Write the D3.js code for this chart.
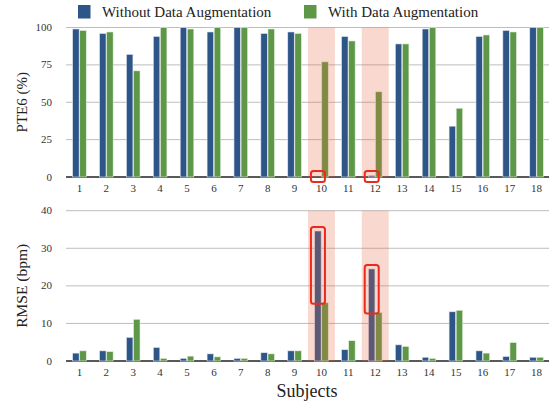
<!DOCTYPE html>
<html>
<head>
<meta charset="utf-8">
<script src="https://cdn.jsdelivr.net/npm/d3@7"></script>
<style>
  body { margin: 0; background: #fff; }
  svg { display: block; font-family: "Liberation Serif", serif; }
</style>
</head>
<body>
<div class="canvas"></div>
<script>
// data
const subjects = d3.range(1, 19);
const pteWithout = [99, 96, 82, 94, 100, 97, 100, 96, 97, 0, 94, 1, 89, 99, 34, 94, 98, 100];
const pteWith = [98, 97, 71, 100, 99, 100, 100, 99, 96, 77, 91, 57, 89, 100, 46, 95, 97, 100];
const rmseWithout = [2.1, 2.7, 6.3, 3.6, 0.7, 1.9, 0.7, 2.2, 2.7, 34.6, 3.0, 24.5, 4.3, 1.0, 13.1, 2.7, 1.2, 1.0];
const rmseWith = [2.7, 2.5, 11.1, 0.7, 1.3, 1.1, 0.7, 1.9, 2.7, 15.5, 5.4, 12.9, 3.9, 0.7, 13.5, 2.1, 4.9, 1.0];
const pteTicks = [0, 25, 50, 75, 100];
const rmseTicks = [0, 10, 20, 30, 40];
const highlighted = [10, 12];
const seriesNames = ['Without Data Augmentation', 'With Data Augmentation'];

const blue = '#2e5588';
const green = '#5e9747';

const svg = d3.select('.canvas').append('svg')
    .attr('width', 549)
    .attr('height', 402);

const x = d3.scaleBand()
    .domain(subjects)
    .range([66, 550])
    .padding(0);

const barW = 6.5;

function panel(opts) {
    const y = d3.scaleLinear().domain(opts.domain).range(opts.range);
    const g = svg.append('g');

    // grid
    g.selectAll('line.grid')
        .data(opts.ticks)
        .join('line')
        .attr('x1', 66).attr('x2', 549)
        .attr('y1', d => y(d)).attr('y2', d => y(d))
        .attr('stroke', d => d === 0 ? '#222' : '#bdbdbd')
        .attr('stroke-width', d => d === 0 ? 1.6 : 1);

    // tick labels
    g.selectAll('text.ytick')
        .data(opts.ticks)
        .join('text')
        .attr('x', 52)
        .attr('y', d => y(d) + 3.5)
        .attr('text-anchor', 'end')
        .attr('font-size', 11)
        .attr('fill', '#333')
        .text(d => d);

    g.selectAll('text.xtick')
        .data(subjects)
        .join('text')
        .attr('x', d => x(d) + x.bandwidth() / 2)
        .attr('y', y(0) + 15)
        .attr('text-anchor', 'middle')
        .attr('font-size', 11)
        .attr('fill', '#333')
        .text(d => d);

    // bars
    const rows = subjects.map((s, i) => ({ s, a: opts.without[i], b: opts.with[i] }));
    g.selectAll('rect.blue')
        .data(rows)
        .join('rect')
        .attr('x', d => x(d.s) + x.bandwidth() / 2 - barW - 0.3)
        .attr('y', d => y(d.a))
        .attr('width', barW)
        .attr('height', d => y(0) - y(d.a))
        .attr('fill', blue)
        .attr('stroke', '#dfe6f0')
        .attr('stroke-width', 0.6);
    g.selectAll('rect.green')
        .data(rows)
        .join('rect')
        .attr('x', d => x(d.s) + x.bandwidth() / 2 + 0.3)
        .attr('y', d => y(d.b))
        .attr('width', barW)
        .attr('height', d => y(0) - y(d.b))
        .attr('fill', green)
        .attr('stroke', '#e3eedd')
        .attr('stroke-width', 0.6);

    // highlight bands
    g.selectAll('rect.hl')
        .data(highlighted)
        .join('rect')
        .attr('x', d => x(d))
        .attr('y', y(opts.domain[1]))
        .attr('width', x.bandwidth())
        .attr('height', y(0) - y(opts.domain[1]))
        .attr('fill', 'rgb(232,100,62)')
        .attr('opacity', 0.25);

    // red boxes around the without-augmentation bars
    g.selectAll('rect.box')
        .data(highlighted)
        .join('rect')
        .attr('x', d => x(d) + x.bandwidth() / 2 - barW - 4)
        .attr('y', d => opts.boxTop(y, d))
        .attr('width', 14)
        .attr('height', d => opts.boxBottom(y, d) - opts.boxTop(y, d))
        .attr('rx', 2.5)
        .attr('fill', 'none')
        .attr('stroke', '#ec2a1c')
        .attr('stroke-width', 2);

    // axis title
    svg.append('text')
        .attr('transform', `translate(27, ${(opts.range[0] + opts.range[1]) / 2}) rotate(-90)`)
        .attr('text-anchor', 'middle')
        .attr('font-size', opts.titleSize)
        .attr('fill', '#222')
        .text(opts.title);
}

panel({
    domain: [0, 100], range: [177, 27.5], ticks: pteTicks,
    without: pteWithout, with: pteWith,
    title: 'PTE6 (%)', titleSize: 15,
    boxTop: (y, d) => y(0) - 6,
    boxBottom: (y, d) => y(0) + 5
});

panel({
    domain: [0, 40], range: [361, 210.7], ticks: rmseTicks,
    without: rmseWithout, with: rmseWith,
    title: 'RMSE (bpm)', titleSize: 15.5,
    boxTop: (y, d) => y(rmseWithout[d - 1]) - 4,
    boxBottom: (y, d) => y(rmseWith[d - 1]) + 1
});

svg.append('text')
    .attr('x', 307)
    .attr('y', 397)
    .attr('text-anchor', 'middle')
    .attr('font-size', 18)
    .attr('fill', '#222')
    .text('Subjects');

// legend
const legend = svg.append('g');
const legX = [78, 304];
legend.selectAll('rect')
    .data(seriesNames)
    .join('rect')
    .attr('x', (d, i) => legX[i])
    .attr('y', 5)
    .attr('width', 12.5)
    .attr('height', 13.5)
    .attr('fill', (d, i) => i === 0 ? blue : green);
legend.selectAll('text')
    .data(seriesNames)
    .join('text')
    .attr('x', (d, i) => legX[i] + 24)
    .attr('y', 17)
    .attr('font-size', 15)
    .attr('fill', '#222')
    .text(d => d);
</script>
</body>
</html>
